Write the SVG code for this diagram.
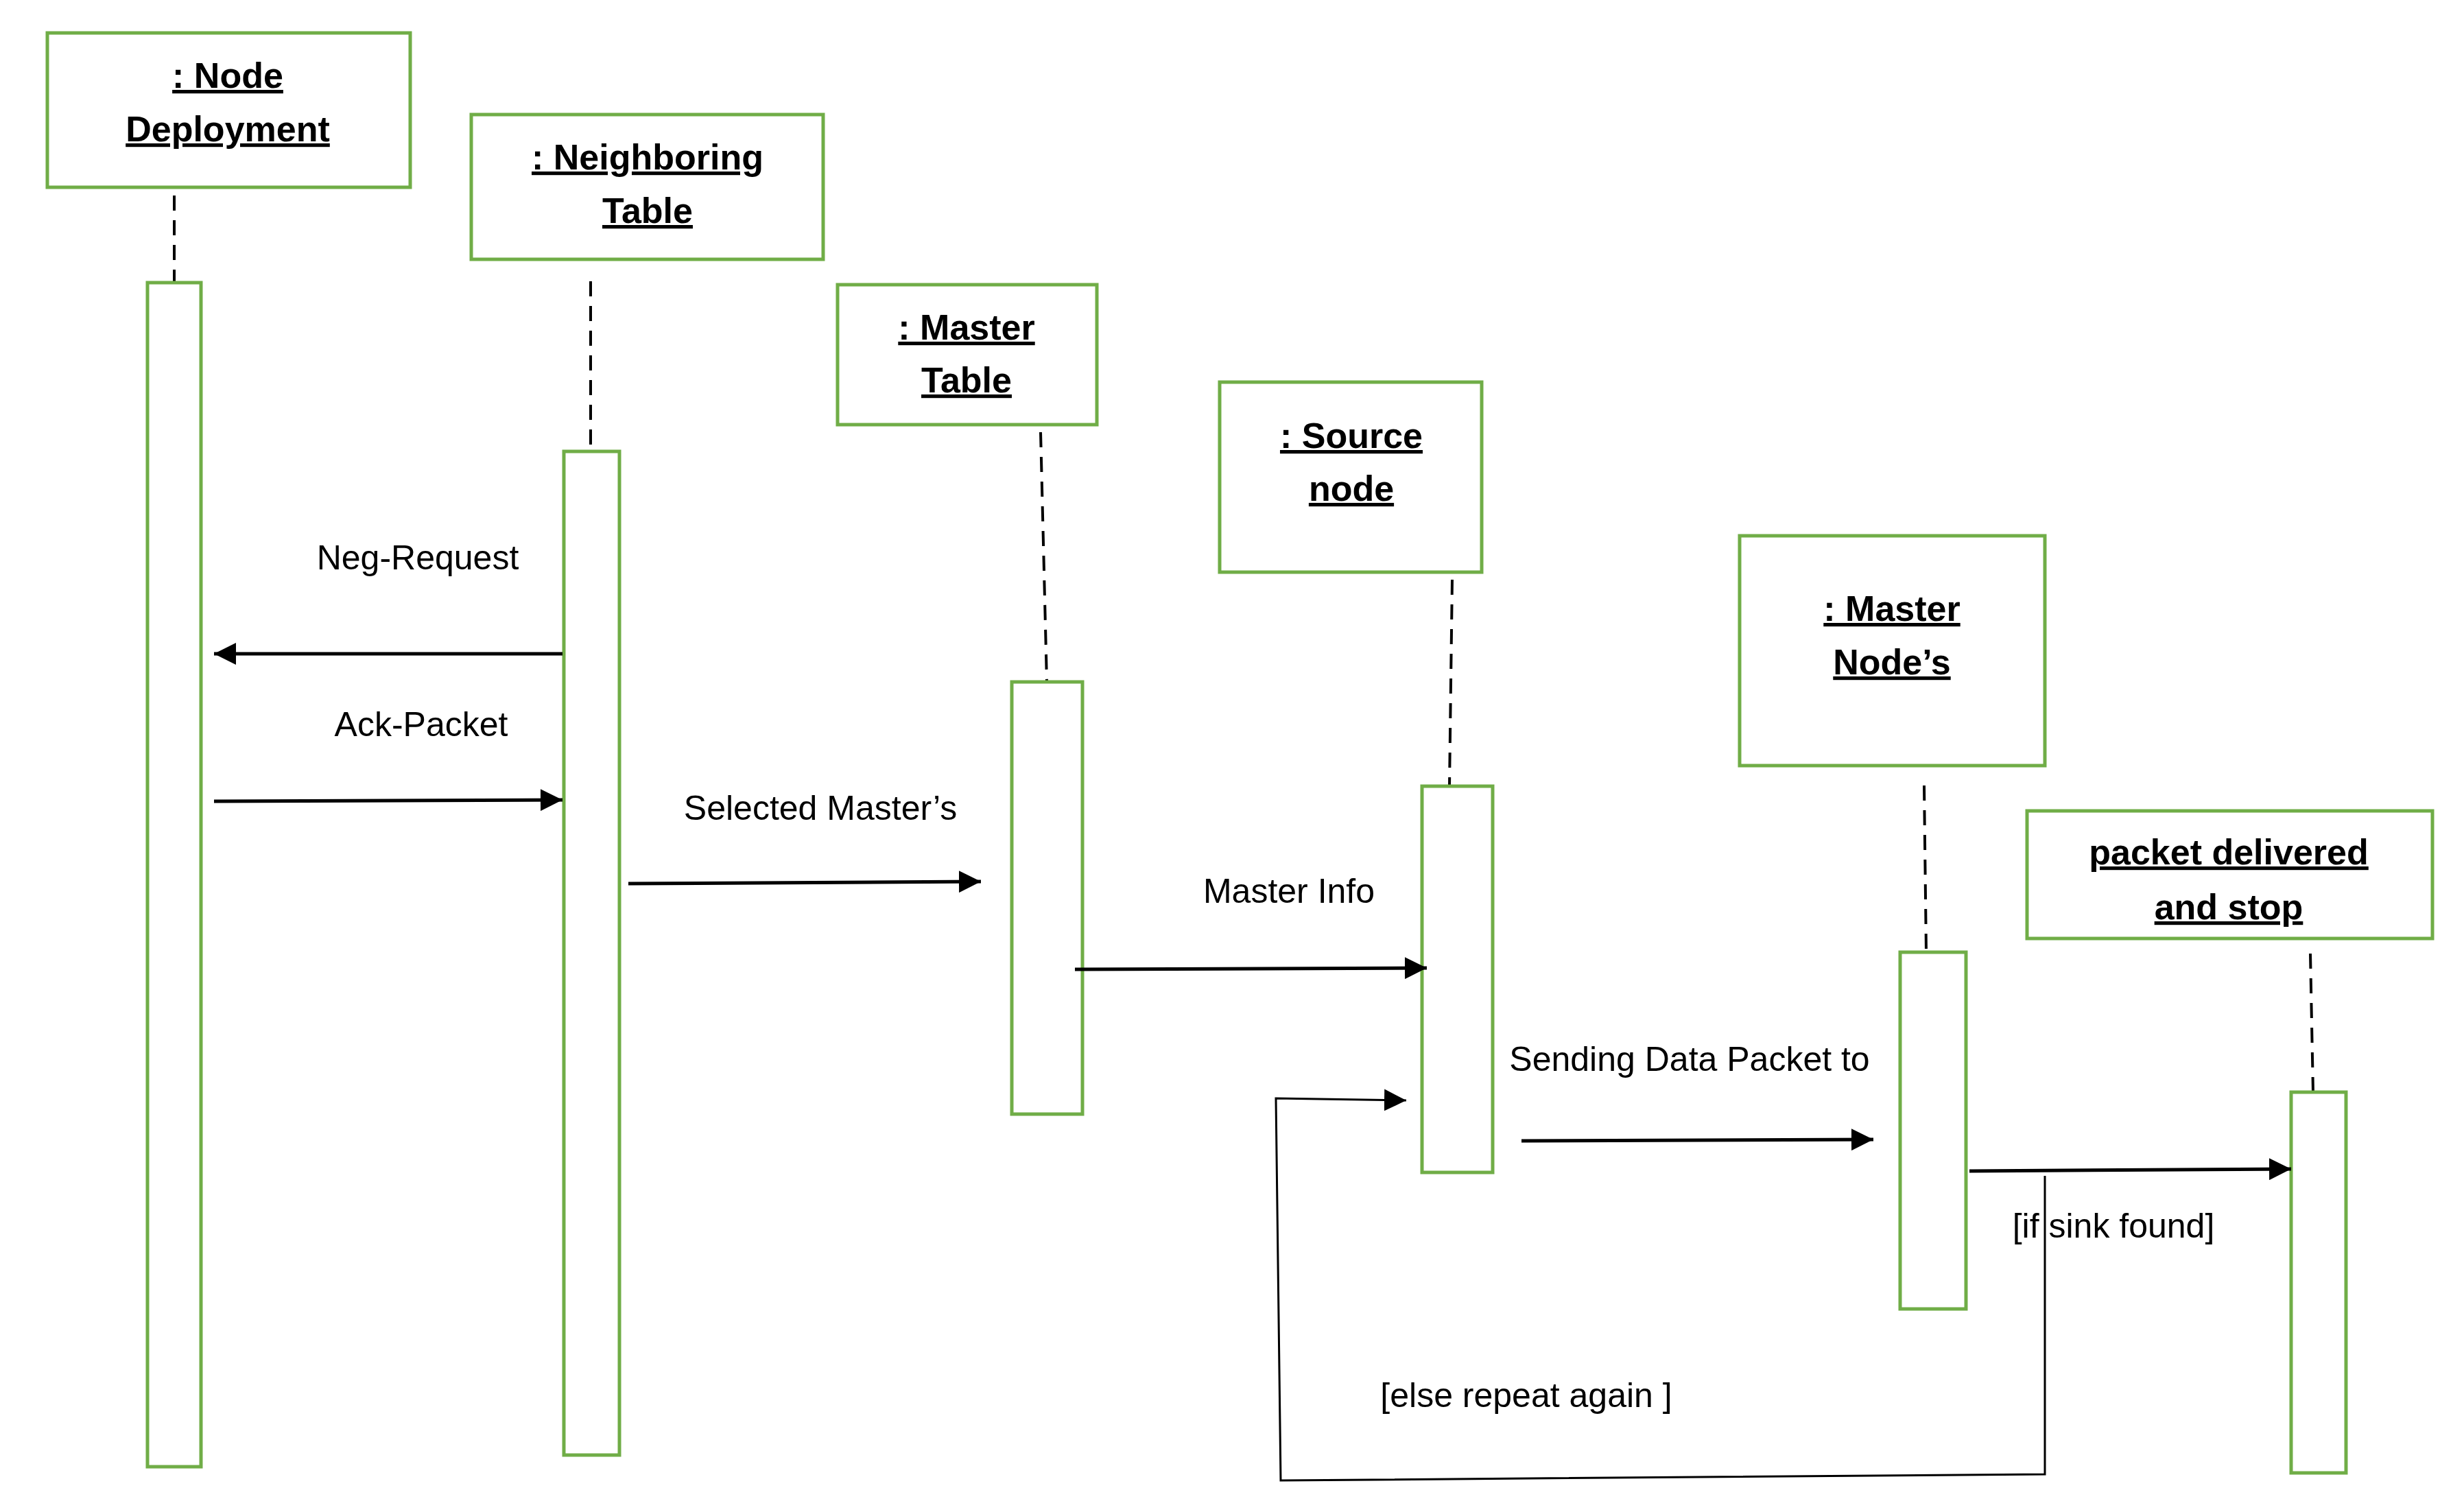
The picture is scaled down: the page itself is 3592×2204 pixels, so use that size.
<svg xmlns="http://www.w3.org/2000/svg" width="3592" height="2204" viewBox="0 0 3592 2204">
<defs>
<style>
.box{fill:#fff;stroke:#70ad47;stroke-width:5}
.life{stroke:#000;stroke-width:4;stroke-dasharray:22,14;fill:none}
.t{font-family:"Liberation Sans",Arial,sans-serif;font-size:52px;font-weight:bold;text-decoration:underline;text-anchor:middle;fill:#000}
.l{font-family:"Liberation Sans",Arial,sans-serif;font-size:50px;text-anchor:middle;fill:#000}
.m{stroke:#000;stroke-width:5;fill:none}
</style>
<marker id="ah" markerWidth="10" markerHeight="10" refX="9" refY="5" orient="auto" markerUnits="userSpaceOnUse" viewBox="0 0 10 10"><path d="M0,0 L10,5 L0,10 z" fill="#000"/></marker>
<marker id="a" viewBox="0 0 10 10" refX="10" refY="5" markerWidth="32" markerHeight="32" markerUnits="userSpaceOnUse" orient="auto"><path d="M0,0 L10,5 L0,10 z" fill="#000"/></marker>
</defs>
<rect width="3592" height="2204" fill="#fff"/>
<g id="node-deployment"><rect class="box" x="69" y="48" width="529" height="225"/><text class="t" x="332" y="128">: Node</text><text class="t" x="332" y="206">Deployment</text><line class="life" x1="254" y1="285" x2="254" y2="412"/><rect class="box" x="215" y="412" width="78" height="1726"/></g>
<g id="neighboring-table"><rect class="box" x="687" y="167" width="513" height="211"/><text class="t" x="944" y="247">: Neighboring</text><text class="t" x="944" y="325">Table</text><line class="life" x1="861" y1="410" x2="861" y2="658"/><rect class="box" x="822" y="658" width="81" height="1463"/></g>
<g id="master-table"><rect class="box" x="1221" y="415" width="378" height="204"/><text class="t" x="1409" y="495">: Master</text><text class="t" x="1409" y="572">Table</text><line class="life" x1="1517" y1="630" x2="1526" y2="994"/><rect class="box" x="1475" y="994" width="103" height="630"/></g>
<g id="source-node"><rect class="box" x="1778" y="557" width="382" height="277"/><text class="t" x="1970" y="653">: Source</text><text class="t" x="1970" y="730">node</text><line class="life" x1="2117" y1="845" x2="2113" y2="1146"/><rect class="box" x="2073" y="1146" width="103" height="563"/></g>
<g id="master-nodes"><rect class="box" x="2536" y="781" width="445" height="335"/><text class="t" x="2758" y="905">: Master</text><text class="t" x="2758" y="983">Node’s</text><line class="life" x1="2805" y1="1145" x2="2808" y2="1388"/><rect class="box" x="2770" y="1388" width="96" height="520"/></g>
<g id="packet-delivered"><rect class="box" x="2955" y="1182" width="591" height="186"/><text class="t" x="3249" y="1260">packet delivered</text><text class="t" x="3249" y="1340">and stop</text><line class="life" x1="3368" y1="1390" x2="3372" y2="1592"/><rect class="box" x="3340" y="1592" width="80" height="555"/></g>
<g id="connectors">
<line class="m" x1="820" y1="953" x2="312" y2="953" marker-end="url(#a)"/>
<line class="m" x1="312" y1="1168" x2="820" y2="1166" marker-end="url(#a)"/>
<line class="m" x1="916" y1="1288" x2="1430" y2="1285" marker-end="url(#a)"/>
<line class="m" x1="1567" y1="1413" x2="2080" y2="1411" marker-end="url(#a)"/>
<line class="m" x1="2218" y1="1663" x2="2731" y2="1661" marker-end="url(#a)"/>
<line class="m" x1="2871" y1="1707" x2="3340" y2="1704" marker-end="url(#a)"/>
<polyline fill="none" stroke="#000" stroke-width="3" points="2981,1714 2981,2149 1867,2158 1860,1601 2050,1604" marker-end="url(#a)"/>
<text class="l" x="609" y="830">Neg-Request</text>
<text class="l" x="614" y="1073">Ack-Packet</text>
<text class="l" x="1196" y="1195">Selected Master’s</text>
<text class="l" x="1879" y="1316">Master Info</text>
<text class="l" x="2463" y="1561">Sending Data Packet to</text>
<text class="l" x="3081" y="1804">[if sink found]</text>
<text class="l" x="2225" y="2051">[else repeat again ]</text>
</g>
</svg>
